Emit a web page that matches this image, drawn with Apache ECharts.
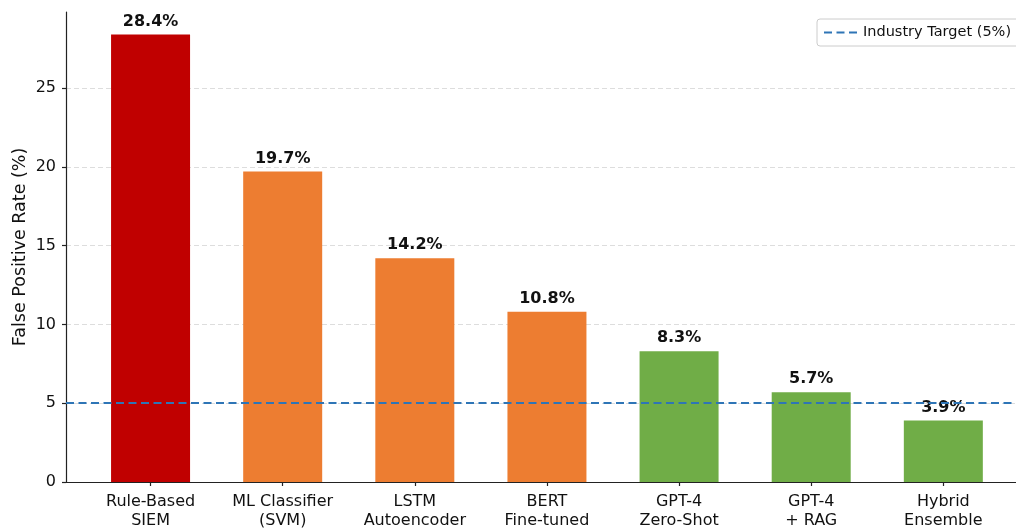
<!DOCTYPE html>
<html>
<head>
<meta charset="utf-8">
<script src="https://cdn.jsdelivr.net/npm/echarts@6/dist/echarts.min.js"></script>
<style>
  html, body { margin: 0; padding: 0; background: #fff; }
  #chart { width: 1016px; height: 530px; }
</style>
</head>
<body>
<div id="chart"></div>
<script>
// Detection approaches and their false positive rates (%)
const categories = [
  'Rule-Based\nSIEM',
  'ML Classifier\n(SVM)',
  'LSTM\nAutoencoder',
  'BERT\nFine-tuned',
  'GPT-4\nZero-Shot',
  'GPT-4\n+ RAG',
  'Hybrid\nEnsemble'
];
const fprValues = [28.4, 19.7, 14.2, 10.8, 8.3, 5.7, 3.9];
const targetRate = 5;
const yTicks = [0, 5, 10, 15, 20, 25];

// Bar fill per approach: legacy rules, classic ML / deep models, LLM-based
const barColors = ['#C00000', '#ED7D31', '#ED7D31', '#ED7D31', '#70AD47', '#70AD47', '#70AD47'];

const positions = categories.map((_, i) => i);
const FONT = 'DejaVu Sans';
const DASH = [8, 4.5];

const chart = echarts.init(document.getElementById('chart'), null, { renderer: 'canvas' });

chart.setOption({
  animation: false,
  backgroundColor: '#ffffff',
  textStyle: { fontFamily: FONT },
  grid: { left: 66, right: 0, top: 12, bottom: 48, containLabel: false, outerBoundsMode: 'none' },
  legend: {
    data: ['Industry Target (5%)'],
    left: 817,
    top: 19,
    orient: 'vertical',
    padding: [6, 12, 6, 6],
    itemWidth: 34,
    itemHeight: 14,
    itemStyle: { opacity: 0 },
    backgroundColor: '#ffffff',
    borderColor: '#cccccc',
    borderWidth: 1,
    borderRadius: 3,
    textStyle: { fontFamily: FONT, fontSize: 14.5, color: '#111' }
  },
  xAxis: {
    type: 'value',
    min: -0.64,
    max: 6.55,
    axisLine: { show: true, onZero: false, lineStyle: { color: '#222', width: 1.2 } },
    axisTick: { show: true, length: 4, customValues: positions, lineStyle: { color: '#222', width: 1.2 } },
    axisLabel: {
      customValues: positions,
      formatter: v => categories[Math.round(v)],
      fontFamily: FONT,
      fontSize: 16,
      lineHeight: 19,
      color: '#111',
      margin: 10
    },
    splitLine: { show: false }
  },
  yAxis: {
    type: 'value',
    min: 0,
    max: Math.max(...fprValues) * 1.05,
    name: 'False Positive Rate (%)',
    nameLocation: 'middle',
    nameGap: 37,
    nameMoveOverlap: false,
    nameRotate: 90,
    nameTextStyle: { fontFamily: FONT, fontSize: 17.5, color: '#111' },
    axisLine: { show: true, onZero: false, lineStyle: { color: '#222', width: 1.2 } },
    axisTick: { show: true, length: 4, customValues: yTicks, lineStyle: { color: '#222', width: 1.2 } },
    axisLabel: {
      customValues: yTicks,
      fontFamily: FONT,
      fontSize: 16,
      color: '#111',
      margin: 10
    },
    splitLine: { show: true, lineStyle: { color: '#dddddd', type: [5, 3], width: 1 } }
  },
  series: [
    {
      name: 'False Positive Rate',
      type: 'bar',
      z: 2,
      barWidth: 79,
      data: fprValues.map((v, i) => ({
        value: [positions[i], v],
        itemStyle: { color: barColors[i] }
      })),
      label: {
        show: true,
        position: 'top',
        distance: 5,
        formatter: p => p.value[1].toFixed(1) + '%',
        fontFamily: FONT,
        fontSize: 16,
        fontWeight: 'bold',
        color: '#111'
      }
    },
    {
      name: 'Industry Target (5%)',
      type: 'line',
      z: 10,
      data: [],
      symbol: 'none',
      lineStyle: { color: '#2E75B6', width: 2.2, type: DASH },
      itemStyle: { color: '#2E75B6' },
      markLine: {
        silent: true,
        symbol: 'none',
        z: 10,
        label: { show: false },
        lineStyle: { color: '#2E75B6', width: 2.2, type: DASH },
        data: [{ yAxis: targetRate }]
      }
    }
  ]
});
</script>
</body>
</html>
